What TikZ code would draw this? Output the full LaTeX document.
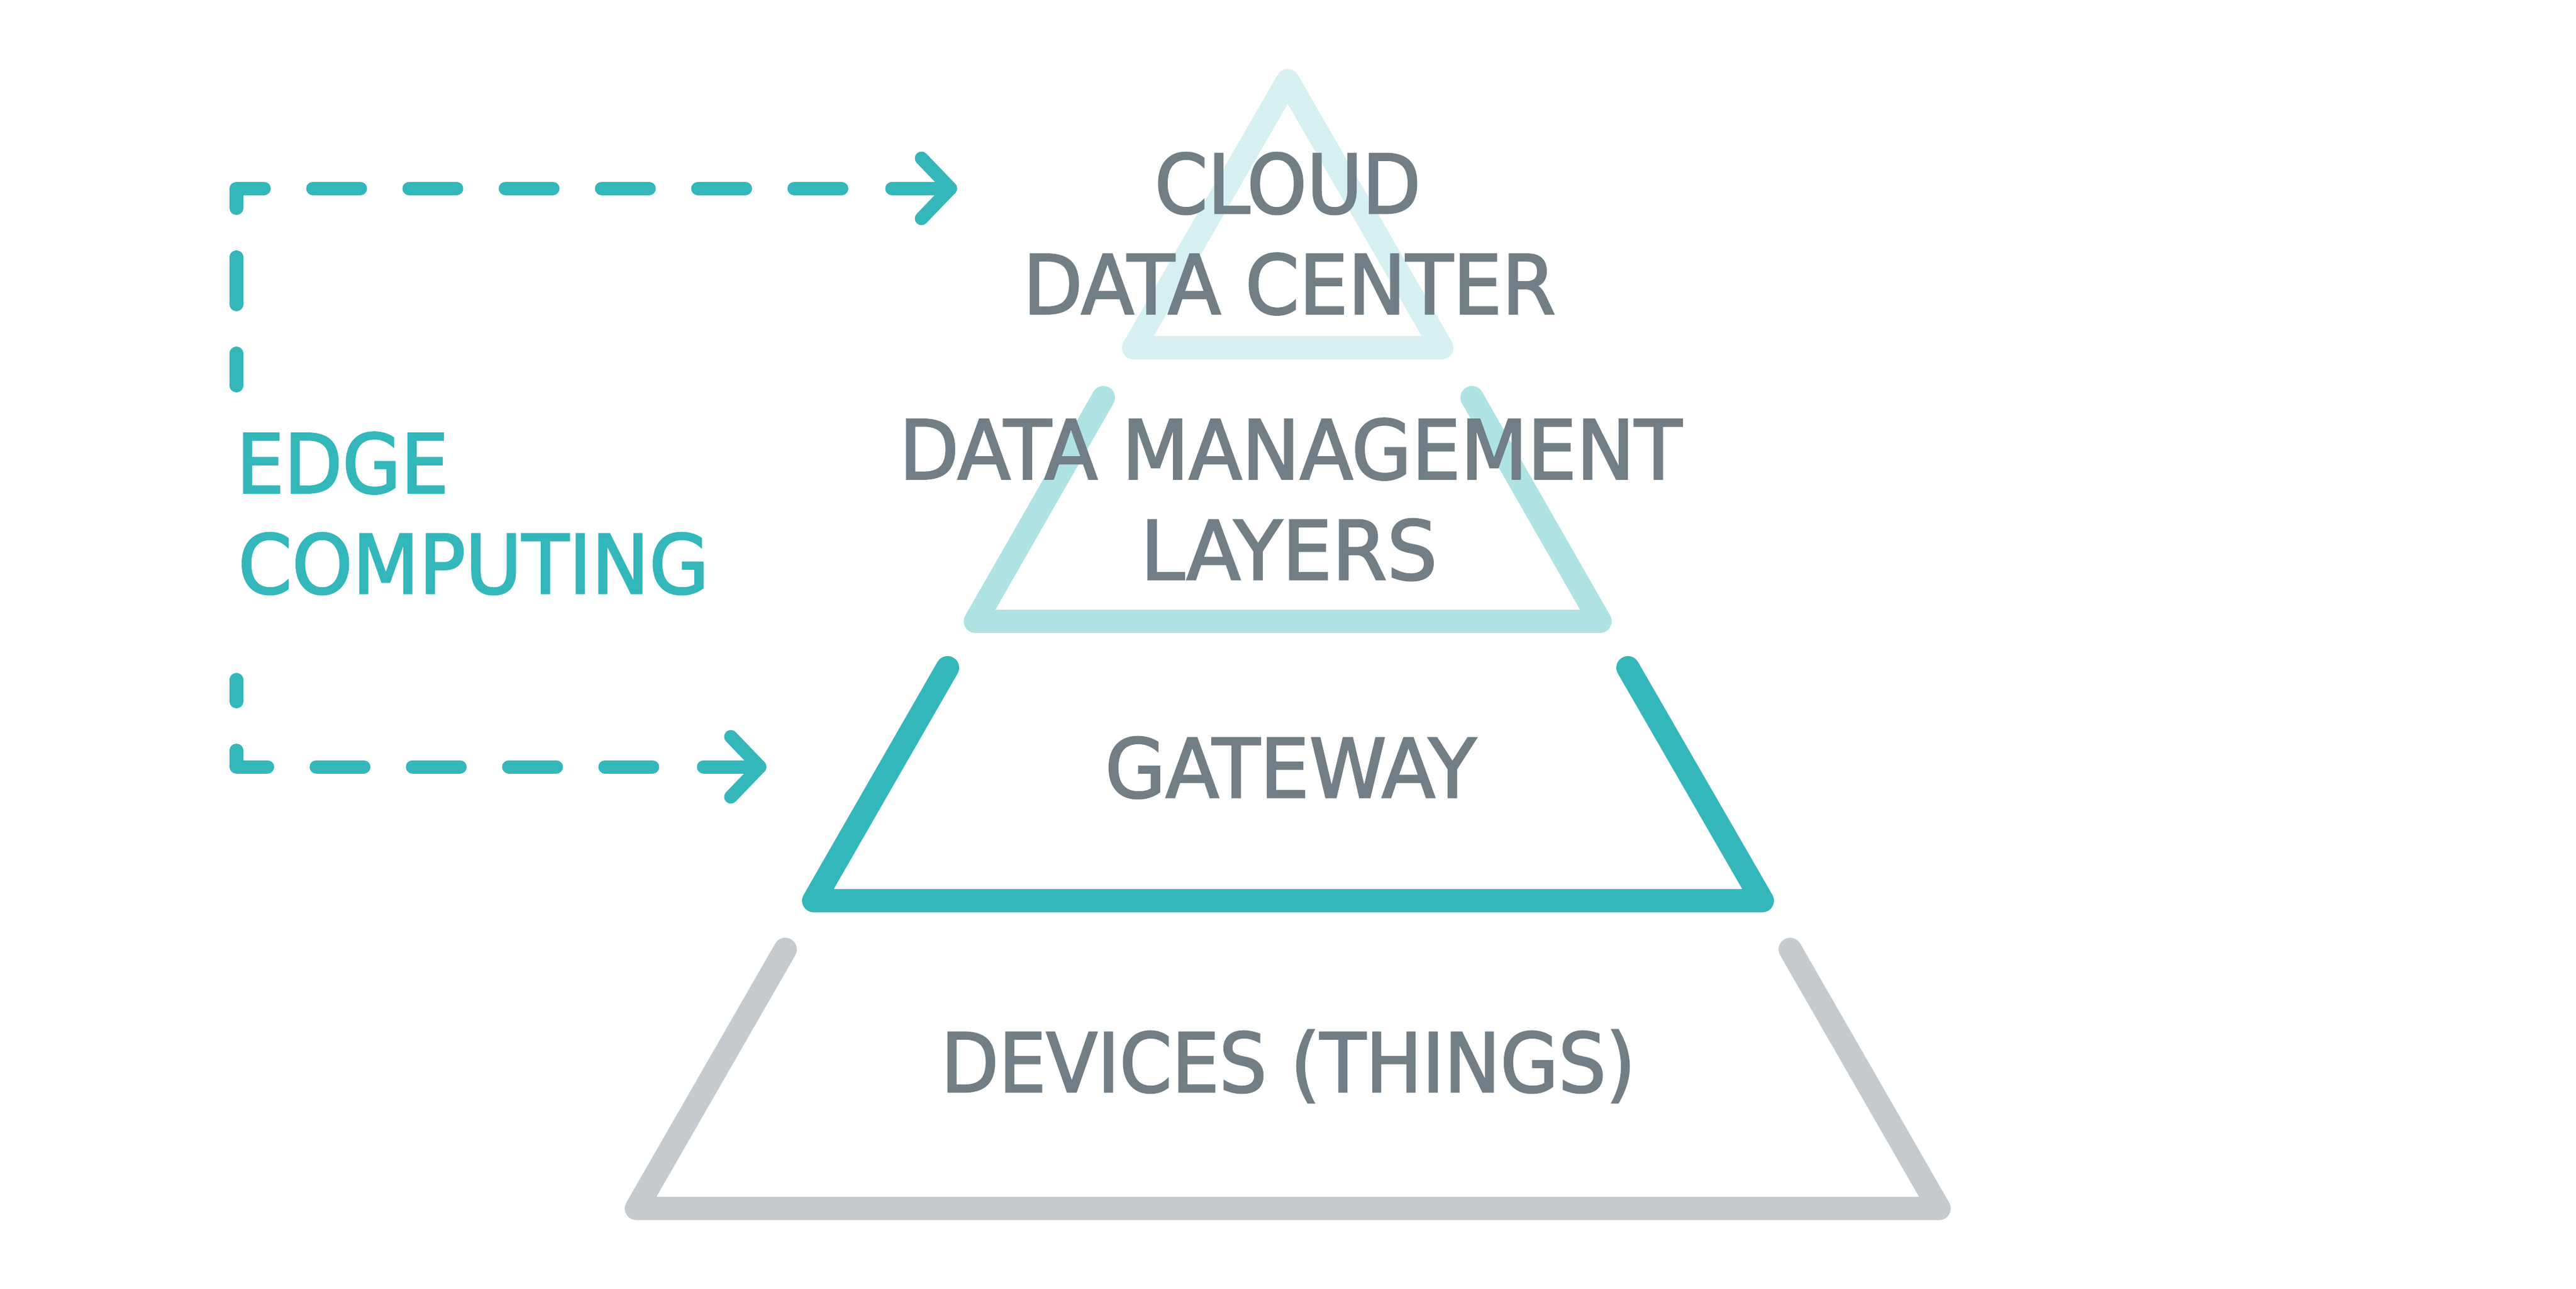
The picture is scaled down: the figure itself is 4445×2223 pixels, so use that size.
\documentclass[tikz,border=0pt]{standalone}
\usepackage{fontspec}
\usepackage{graphicx}
\newfontfamily\dinfont[FakeBold=2]{DejaVu Sans Condensed}
\definecolor{teal}{HTML}{33B7BB}
\definecolor{lteal}{HTML}{AEE2E3}
\definecolor{vlteal}{HTML}{D6F0F1}
\definecolor{lgray}{HTML}{C5CACE}
\definecolor{txtgray}{HTML}{717E86}
\newsavebox\fitbox
\newcommand\fitw[2]{\sbox\fitbox{#2}\pgfmathsetmacro\fitr{#1*0.284528/\wd\fitbox}\scalebox{\fitr}[1]{\usebox\fitbox}}
\tikzset{
  layer/.style={line width=0.4cm, line join=round, line cap=round},
  lbl/.style={inner sep=0pt, outer sep=0pt, anchor=base, text=txtgray,
    font=\dinfont\fontsize{40.2}{48}\selectfont},
  edgelbl/.style={lbl, anchor=base west, text=teal},
  dashline/.style={teal, line width=0.23cm, line cap=round, line join=round,
    dash pattern=on 0.82cm off 0.84cm},
  shaft/.style={teal, line width=0.23cm, line cap=round, line join=round}
}
\begin{document}
\begin{tikzpicture}[x=0.01cm, y=-0.01cm]
\useasboundingbox (0,0) rectangle (4445,2223);
\fill[white] (0,0) rectangle (4445,2223);

% pyramid layers
\draw[layer, vlteal] (2222,139) -- (1956,600) -- (2488,600) -- cycle;
\draw[layer, lteal] (1904,686) -- (1683,1072) -- (2761,1072) -- (2540,686);
\draw[layer, teal] (1635,1152) -- (1404,1554) -- (3041,1554) -- (2809,1152);
\draw[layer, lgray] (1355,1638) -- (1098,2085) -- (3346,2085) -- (3089,1638);

% labels
\node[lbl] (cloud1) at (2222,368) {\fitw{459}{CLOUD}};
\node[lbl] (cloud2) at (2225,541.5) {\fitw{919}{DATA CENTER}};
\node[lbl] (dml1) at (2227,826.5) {\fitw{1350}{DATA MANAGEMENT}};
\node[lbl] (dml2) at (2224,1000) {\fitw{512}{LAYERS}};
\node[lbl] (gw) at (2227,1376) {\fitw{640}{GATEWAY}};
\node[lbl] (dev) at (2223,1884) {\fitw{1198}{DEVICES (THINGS)}};
\node[edgelbl] (edge1) at (408,850.5) {\fitw{366}{EDGE}};
\node[edgelbl] (edge2) at (411,1024) {\fitw{812}{COMPUTING}};

% coordinates for the edge arrows
\coordinate (tstart) at (408,665.5);
\coordinate (tcorner) at (408,325);
\coordinate (tdashend) at (1530,325);
\coordinate (tshaft) at (1539,325);
\coordinate (ttip) at (1640,325);
\coordinate (tarmA) at (1590,273);
\coordinate (tarmB) at (1590,377);

\coordinate (bstart) at (408,1172.5);
\coordinate (bcorner) at (408,1323);
\coordinate (bdashend) at (1205,1323);
\coordinate (bshaft) at (1214,1323);
\coordinate (btip) at (1311,1323);
\coordinate (barmA) at (1261,1271);
\coordinate (barmB) at (1261,1375);

\draw[dashline, dash phase=0.26cm] (tstart) -- (tcorner) -- (tdashend);
\draw[shaft] (tshaft) -- (ttip);
\draw[shaft] (tarmA) -- (ttip) -- (tarmB);

\draw[dashline, dash phase=0.44cm] (bstart) -- (bcorner) -- (bdashend);
\draw[shaft] (bshaft) -- (btip);
\draw[shaft] (barmA) -- (btip) -- (barmB);
\end{tikzpicture}
\end{document}
